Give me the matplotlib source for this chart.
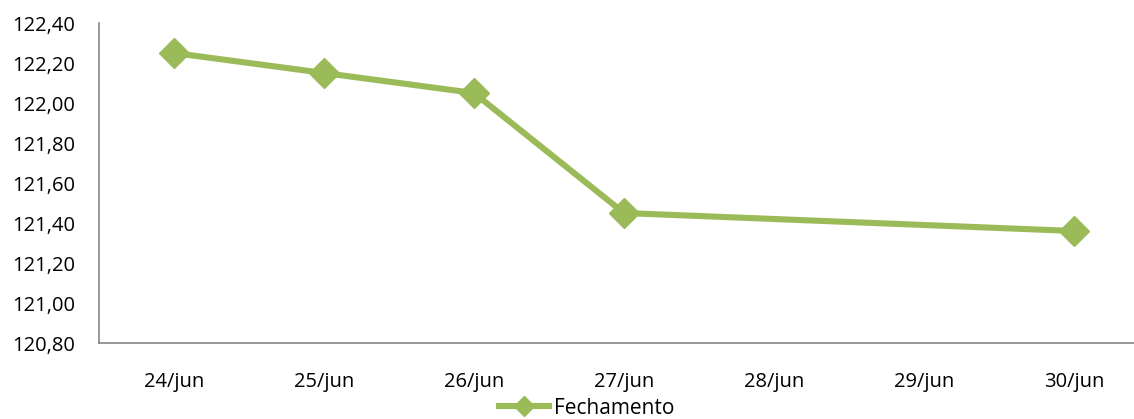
import matplotlib
matplotlib.use("Agg")
import matplotlib.pyplot as plt
from matplotlib.ticker import FuncFormatter

# Closing quotes for the week
days = [24, 25, 26, 27, 30]
closing = [122.25, 122.15, 122.05, 121.45, 121.36]
tick_days = [24, 25, 26, 27, 28, 29, 30]
tick_labels = ["24/jun", "25/jun", "26/jun", "27/jun", "28/jun", "29/jun", "30/jun"]
y_ticks = [120.80, 121.00, 121.20, 121.40, 121.60, 121.80, 122.00, 122.20, 122.40]
series_name = "Fechamento"

plt.rcParams["font.family"] = ["Open Sans", "DejaVu Sans"]

W, H = 1134, 419
fig = plt.figure(figsize=(W / 100, H / 100), dpi=100)
ax = fig.add_axes([99 / W, 1 - 343 / H, 1050 / W, 320 / H])

green = "#9BBB59"
ax.plot(days, closing, color=green, linewidth=4.4, marker="D", markersize=15.5,
        markerfacecolor=green, markeredgecolor=green, solid_joinstyle="round",
        label=series_name, clip_on=False)

ax.set_xlim(23.5, 30.5)
ax.set_ylim(120.80, 122.40)
ax.set_xticks(tick_days)
ax.set_xticklabels(tick_labels)
ax.set_yticks(y_ticks)
ax.yaxis.set_major_formatter(FuncFormatter(lambda v, p: f"{v:.2f}".replace(".", ",")))
ax.tick_params(axis="both", length=0, labelsize=14.5, colors="black")
ax.tick_params(axis="x", pad=21)
ax.tick_params(axis="y", pad=17.5)

for side in ("top", "right"):
    ax.spines[side].set_visible(False)
for side in ("left", "bottom"):
    ax.spines[side].set_color("#868686")
    ax.spines[side].set_linewidth(1.2)

leg = fig.legend(loc="center", bbox_to_anchor=(587 / W, 1 - 408 / H), frameon=False,
                 fontsize=15, handlelength=2.4, handletextpad=0.25,
                 borderpad=0, markerscale=0.65)

fig.savefig("out.png", dpi=100)
